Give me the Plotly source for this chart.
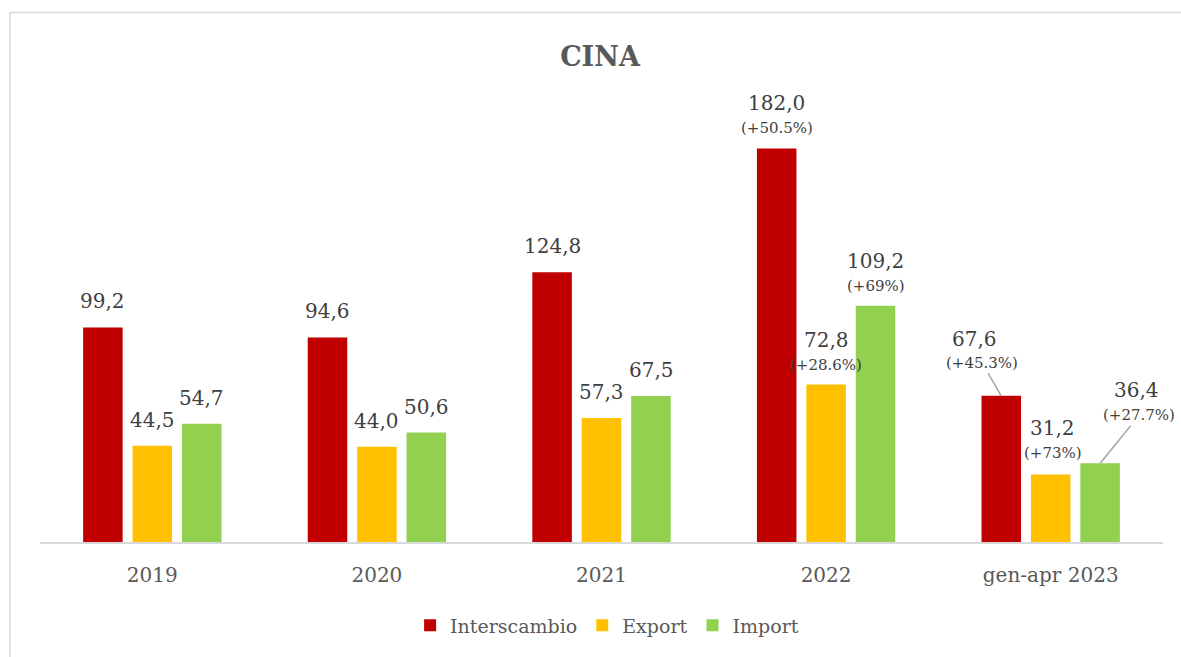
import plotly.graph_objects as go

categories = ["2019", "2020", "2021", "2022", "gen-apr 2023"]
interscambio = [99.2, 94.6, 124.8, 182.0, 67.6]
export = [44.5, 44.0, 57.3, 72.8, 31.2]
imports = [54.7, 50.6, 67.5, 109.2, 36.4]
pct_interscambio = [None, None, None, "(+50.5%)", "(+45.3%)"]
pct_export = [None, None, None, "(+28.6%)", "(+73%)"]
pct_import = [None, None, None, "(+69%)", "(+27.7%)"]

series_names = ["Interscambio", "Export", "Import"]
colors = ["#C00000", "#FFC000", "#92D050"]
FONT = "DejaVu Serif"
TXT = "#595959"
VAL = "#404040"

fig = go.Figure()
for name, vals, col in zip(series_names, [interscambio, export, imports], colors):
    fig.add_trace(go.Bar(name=name, x=categories, y=vals, marker=dict(color=col, line=dict(width=0))))

def fmt(v):
    return f"{v:.1f}".replace(".", ",")

VS, PS = 20, 15
xoff = [-49.5, 0, 49.5]
ann = []
series_vals = [interscambio, export, imports]
series_pct = [pct_interscambio, pct_export, pct_import]
for si in range(3):
    for ci, cat in enumerate(categories):
        v = series_vals[si][ci]
        p = series_pct[si][ci]
        dx = xoff[si]
        if p is None:
            ann.append(dict(x=ci, y=v, text=fmt(v), showarrow=False, xshift=dx, yshift=26,
                            yanchor="middle", font=dict(family=FONT, size=VS, color=VAL)))
        elif ci == 3:
            ann.append(dict(x=ci, y=v, text=fmt(v), showarrow=False, xshift=dx, yshift=45,
                            yanchor="middle", font=dict(family=FONT, size=VS, color=VAL)))
            ann.append(dict(x=ci, y=v, text=p, showarrow=False, xshift=dx, yshift=20,
                            yanchor="middle", font=dict(family=FONT, size=PS, color=VAL)))
        else:
            if si == 0:
                vdx, vdy, pdx, pdy, arrow = -27, 57, -19, 33, True
            elif si == 1:
                vdx, vdy, pdx, pdy, arrow = 2, 47, 2, 22, False
            else:
                vdx, vdy, pdx, pdy, arrow = 36, 73, 39, 48, True
            ann.append(dict(x=ci, y=v, text=fmt(v), showarrow=False, xshift=dx + vdx, yshift=vdy,
                            yanchor="middle", font=dict(family=FONT, size=VS, color=VAL)))
            if arrow:
                ann.append(dict(x=ci, y=v, text=p, showarrow=True, arrowhead=0, arrowwidth=1.5,
                                arrowcolor="#a6a6a6", ax=pdx, ay=-pdy, xshift=dx, standoff=0,
                                font=dict(family=FONT, size=PS, color=VAL)))
            else:
                ann.append(dict(x=ci, y=v, text=p, showarrow=False, xshift=dx + pdx, yshift=pdy,
                                yanchor="middle", font=dict(family=FONT, size=PS, color=VAL)))

ml, mr, mt, mb = 40, 18, 100, 112
W, H = 1181, 657
pw, ph = W - ml - mr, H - mt - mb

fig.update_layout(
    width=W, height=H,
    margin=dict(l=ml, r=mr, t=mt, b=mb),
    paper_bgcolor="white", plot_bgcolor="white",
    barmode="group", bargap=0.34, bargroupgap=0.2,
    title=dict(text="<b>CINA</b>", x=600 / W, xanchor="center", y=1 - 57 / H, yanchor="middle",
               font=dict(family=FONT, size=27, color=TXT)),
    xaxis=dict(type="category", range=[-0.5, 4.5], showline=True, linecolor="#d9d9d9",
               linewidth=1.5, ticks="", showgrid=False, ticklabelstandoff=14,
               tickfont=dict(family=FONT, size=20, color=TXT)),
    yaxis=dict(range=[0, 204.4], visible=False, showgrid=False),
    legend=dict(orientation="h", x=0.505, xanchor="center", y=(545 - 629) / ph, yanchor="middle",
                font=dict(family=FONT, size=19, color=TXT), itemwidth=30, tracegroupgap=0),
    annotations=ann,
    shapes=[dict(type="rect", xref="paper", yref="paper",
                 x0=(10 - ml) / pw, x1=(W + 20 - ml) / pw,
                 y0=(H - mb - (H + 20)) / ph, y1=(H - mb - 12) / ph,
                 line=dict(color="#d9d9d9", width=1.5), fillcolor="rgba(0,0,0,0)", layer="below")],
)

fig.write_html("out.html", config={"displayModeBar": False},
               post_script="document.body.style.margin='0';")
